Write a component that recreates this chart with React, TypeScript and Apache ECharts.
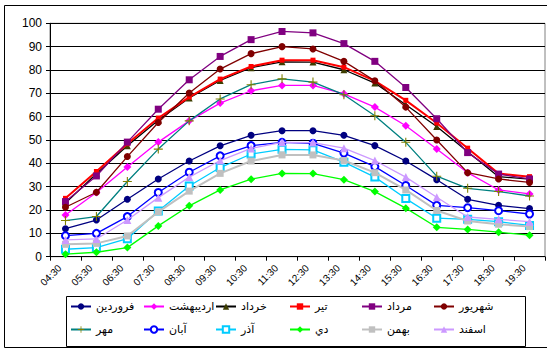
import React, { useEffect, useRef } from "react";
import * as echarts from "echarts";

const categories = ["04:30", "05:30", "06:30", "07:30", "08:30", "09:30", "10:30", "11:30", "12:30", "13:30", "14:30", "15:30", "16:30", "17:30", "18:30", "19:30"];

const farvardin = [12, 15.7, 24.6, 33.3, 41, 47.5, 52, 54, 54, 52, 47.6, 41, 33, 24.6, 22, 20.6];
const ordibehesht = [17.9, 27.5, 38.4, 49.1, 58.2, 65.8, 71.1, 73.4, 73.4, 69.8, 64.1, 56.1, 46.1, 36, 28.6, 26.9];
const khordad = [23, 35.5, 47.5, 58.5, 68, 75.5, 81, 83.5, 83.4, 80.1, 74.4, 65.1, 55.8, 45, 34.3, 33.2];
const tir = [25, 36.5, 48.4, 59.4, 68.4, 76.1, 81.5, 84.2, 84.2, 81.2, 75.3, 67, 57.3, 46.5, 35.6, 34.3];
const mordad = [23.6, 34.6, 49.1, 63.2, 75.8, 85.8, 93, 96.5, 95.9, 91.3, 83.7, 72.5, 59.1, 44.6, 35.4, 33.3];
const shahrivar = [21.2, 27.6, 42.9, 57.5, 70.1, 80.4, 87, 90, 89, 83.7, 75.4, 64.1, 50, 36, 33.3, 31.8];
const mehr = [15.5, 17.2, 32.2, 46.1, 58.2, 67.6, 73.7, 76.2, 74.8, 69.4, 60.4, 49, 34.5, 29.3, 27.9, 26];
const aban = [9, 10, 17.2, 27.5, 36.2, 43.2, 47.6, 49, 48.6, 44.4, 38.6, 30.5, 22, 21, 19.7, 18.3];
const azar = [3.2, 3.9, 7.7, 19.6, 30.3, 38.2, 44, 46, 45.8, 40.5, 34.1, 24.9, 16.5, 16, 15, 13.4];
const dey = [1.1, 1.9, 3.9, 13.2, 21.8, 28.6, 33.2, 35.7, 35.6, 33, 27.9, 20.8, 12.6, 11.7, 10.5, 9.2];
const bahman = [5.3, 5.7, 8.9, 19.2, 28.1, 35.7, 41, 43.6, 43.6, 41.2, 36, 28.6, 19.8, 15.3, 13.9, 12.9];
const esfand = [7.2, 7.6, 15.7, 25.3, 34.1, 41.2, 46.4, 49, 48.9, 46.5, 41.2, 34.1, 25.5, 17, 16, 15];

const seriesNames = ["فروردین", "اردیبهشت", "خرداد", "تیر", "مرداد", "شهریور", "مهر", "آبان", "آذر", "دي", "بهمن", "اسفند"];
const seriesData = [farvardin, ordibehesht, khordad, tir, mordad, shahrivar, mehr, aban, azar, dey, bahman, esfand];

const PLUS = "path://M4.4,0H5.6V4.4H10V5.6H5.6V10H4.4V5.6H0V4.4H4.4Z";

const styles: any[] = [
  { line: "#000080", mark: "#000080", symbol: "circle", size: 7, width: 1.3 },
  { line: "#FF00FF", mark: "#FF00FF", symbol: "diamond", size: 8, width: 1.3 },
  { line: "#000000", mark: "#3d3d00", symbol: "triangle", size: 7, width: 1.3 },
  { line: "#FF0000", mark: "#FF0000", symbol: "rect", size: 5, width: 2 },
  { line: "#800080", mark: "#800080", symbol: "rect", size: 7, width: 1.3 },
  { line: "#800000", mark: "#800000", symbol: "circle", size: 7, width: 1.3 },
  { line: "#008080", mark: "#808000", symbol: PLUS, size: 9, width: 1.3 },
  { line: "#0000FF", mark: "#0000FF", symbol: "emptyCircle", size: 7, width: 1.3 },
  { line: "#00CCFF", mark: "#00CCFF", symbol: "emptyRect", size: 7, width: 1.3 },
  { line: "#00FF00", mark: "#00FF00", symbol: "diamond", size: 8, width: 1.3 },
  { line: "#C0C0C0", mark: "#C0C0C0", symbol: "rect", size: 7, width: 2 },
  { line: "#CC99FF", mark: "#CC99FF", symbol: "triangle", size: 8, width: 1.3 },
];

const legendCols = [70, 143, 215, 289, 361, 433];
const legendRows = [301, 324];

export default function App() {
  const ref = useRef<HTMLDivElement>(null);
  useEffect(() => {
    if (!ref.current) return;
    const chart = echarts.init(ref.current, null, { renderer: "svg" });
    const series = seriesNames.map((name, i) => {
      const s = styles[i];
      return {
        name,
        type: "line",
        data: seriesData[i],
        symbol: s.symbol,
        symbolSize: s.size,
        showSymbol: true,
        lineStyle: { color: s.line, width: s.width },
        itemStyle: {
          color: s.mark,
          borderColor: s.mark,
          borderWidth: s.symbol.startsWith("empty") ? 1.2 : 0,
        },
        emphasis: { disabled: true },
        z: 3 + i,
      };
    });
    const legends = seriesNames.map((name, i) => ({
      data: [name],
      left: legendCols[i % 6],
      top: legendRows[Math.floor(i / 6)],
      orient: "horizontal",
      padding: 0,
      itemWidth: 20,
      itemHeight: 8,
      itemGap: 0,
      selectedMode: false,
      textStyle: { fontSize: 11, color: "#000", fontFamily: "DejaVu Sans" },
    }));
    chart.setOption({
      animation: false,
      backgroundColor: "#fff",
      grid: {
        left: 50,
        top: 23.3,
        right: 2,
        bottom: 92.3,
        show: true,
        borderColor: "#808080",
        borderWidth: 1,
        backgroundColor: "transparent",
      },
      legend: legends,
      xAxis: {
        type: "category",
        data: categories,
        boundaryGap: true,
        axisLine: { show: true, lineStyle: { color: "#000", width: 1 } },
        axisTick: { show: true, alignWithLabel: false, length: 4, lineStyle: { color: "#000" } },
        axisLabel: {
          rotate: 45,
          interval: 0,
          fontSize: 10,
          color: "#000",
          fontFamily: "Liberation Sans",
          margin: 4,
          padding: [0, 8, 0, 0],
        },
        splitLine: { show: false },
      },
      yAxis: {
        type: "value",
        min: 0,
        max: 100,
        interval: 10,
        axisLine: { show: true, lineStyle: { color: "#000", width: 1 } },
        axisTick: { show: true, length: 4, lineStyle: { color: "#000" } },
        axisLabel: { fontSize: 12, color: "#000", fontFamily: "Liberation Sans", margin: 8 },
        splitLine: { show: true, lineStyle: { color: "#000", width: 1 } },
      },
      graphic: [
        {
          type: "rect",
          shape: { x: 4.5, y: 5.5, width: 600, height: 342 },
          style: { fill: "none", stroke: "#000", lineWidth: 1 },
          silent: true,
          z: -1,
        },
        {
          type: "rect",
          shape: { x: 66.5, y: 296.5, width: 459, height: 50 },
          style: { fill: "none", stroke: "#000", lineWidth: 1 },
          silent: true,
        },
      ],
      series,
    });
    return () => chart.dispose();
  }, []);
  return (
    <div
      ref={ref}
      style={{ position: "fixed", left: 0, top: 0, width: 547, height: 349, background: "#fff" }}
    />
  );
}
